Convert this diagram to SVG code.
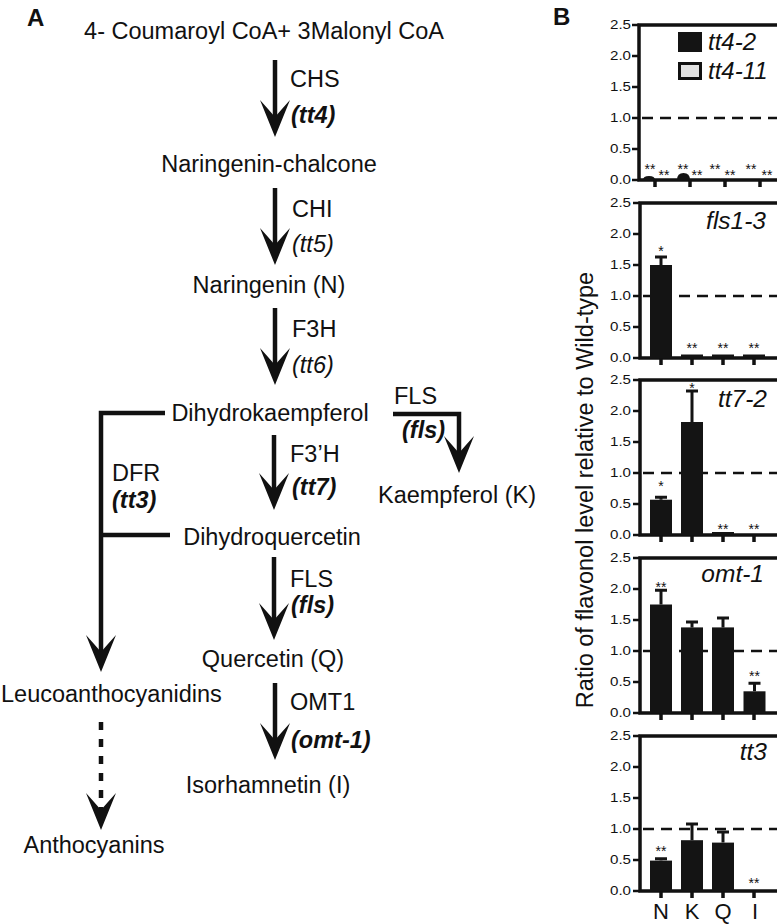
<svg xmlns="http://www.w3.org/2000/svg" width="777" height="924" viewBox="0 0 777 924">
<style>
text{font-family:"Liberation Sans",Arial,Helvetica,sans-serif;fill:#111}
.t{font-size:23.5px}
.c{text-anchor:middle}
.bi{font-weight:bold;font-style:italic}
.it{font-style:italic}
.lab{font-size:24px;font-weight:bold}
.tk{font-size:12px;text-anchor:end}
.st{font-size:14px;text-anchor:middle}
.pl{font-size:24.5px;font-style:italic;text-anchor:end}
.xl{font-size:22px;text-anchor:middle}
.shaft{fill:none;stroke:#111;stroke-width:4.5;stroke-linejoin:miter;marker-end:url(#ah)}
.br{fill:none;stroke:#111;stroke-width:4.5}
.frame{fill:none;stroke:#111;stroke-width:3.5;stroke-linejoin:miter}
.ytk{stroke:#111;stroke-width:2.5}
.xtk{stroke:#111;stroke-width:3.5}
.dash{stroke:#111;stroke-width:2.5;stroke-dasharray:11 7}
.bar{fill:#141414}
.err{stroke:#141414;stroke-width:3;fill:none}
</style>
<defs>
<marker id="ah" markerUnits="userSpaceOnUse" viewBox="0 0 37 30" markerWidth="37" markerHeight="30" refX="24" refY="15" orient="auto">
<path d="M37,15 L0,0 Q10,9 17,15 Q10,21 0,30 Z" fill="#111"/>
</marker>
</defs>
<rect width="777" height="924" fill="#fff"/>

<text class="lab" x="27" y="26">A</text>
<text class="lab" x="553" y="25">B</text>

<g id="connectors">
<path class="shaft" d="M275,60 V124"/>
<path class="shaft" d="M275,188 V252"/>
<path class="shaft" d="M275,308 V372"/>
<path class="shaft" d="M274,435 V497"/>
<path class="shaft" d="M274,557 V627"/>
<path class="shaft" d="M275,683 V747"/>
<path class="shaft" d="M393,414 H459 V460"/>
<path class="shaft" d="M165,413 H101 V659"/>
<path class="br" d="M101,535 H170"/>
<path class="shaft" d="M101,722 V817" stroke-dasharray="8 9"/>
</g>

<g id="node-coumaroyl"><text class="t c" x="264" y="39">4- Coumaroyl CoA+ 3Malonyl CoA</text></g>
<g id="node-chalcone"><text class="t c" x="269" y="172">Naringenin-chalcone</text></g>
<g id="node-naringenin"><text class="t c" x="269" y="293">Naringenin (N)</text></g>
<g id="node-dihydrokaempferol"><text class="t c" x="270" y="421">Dihydrokaempferol</text></g>
<g id="node-kaempferol"><text class="t c" x="457" y="503">Kaempferol (K)</text></g>
<g id="node-dihydroquercetin"><text class="t c" x="272" y="545">Dihydroquercetin</text></g>
<g id="node-quercetin"><text class="t c" x="273" y="667">Quercetin (Q)</text></g>
<g id="node-isorhamnetin"><text class="t c" x="268" y="793">Isorhamnetin (I)</text></g>
<g id="node-leuco"><text class="t" x="1" y="702">Leucoanthocyanidins</text></g>
<g id="node-antho"><text class="t c" x="94" y="853">Anthocyanins</text></g>

<g id="label-chs"><text class="t" x="290" y="87">CHS</text><text class="t bi" x="291" y="123">(tt4)</text></g>
<g id="label-chi"><text class="t" x="292" y="217">CHI</text><text class="t it" x="292" y="252">(tt5)</text></g>
<g id="label-f3h"><text class="t" x="292" y="337">F3H</text><text class="t it" x="292" y="373">(tt6)</text></g>
<g id="label-f3ph"><text class="t" x="290" y="462">F3’H</text><text class="t bi" x="292" y="495">(tt7)</text></g>
<g id="label-fls"><text class="t" x="290" y="587">FLS</text><text class="t bi" x="291" y="613">(fls)</text></g>
<g id="label-omt"><text class="t" x="290" y="710">OMT1</text><text class="t bi" x="291" y="748">(omt-1)</text></g>
<g id="label-fls-branch"><text class="t" x="394" y="404">FLS</text><text class="t bi" x="402" y="438">(fls)</text></g>
<g id="label-dfr"><text class="t" x="112" y="481">DFR</text><text class="t bi" x="112" y="508">(tt3)</text></g>

<g id="ylabel"><text class="t c" transform="translate(593,490) rotate(-90)">Ratio of flavonol level relative to Wild-type</text></g>

<g id="chart-tt4">
<path class="frame" d="M777,25 H639 V180 H777"/>
<path class="ytk" d="M632,180H639M632,149H639M632,118H639M632,87H639M632,56H639M632,25H639"/>
<path class="xtk" d="M655,180V187M690,180V187M725,180V187M760,180V187"/>
<line class="dash" x1="642" y1="118" x2="777" y2="118"/>
<text class="tk" x="631" y="184.3" textLength="21" lengthAdjust="spacingAndGlyphs">0.0</text>
<text class="tk" x="631" y="153.3" textLength="21" lengthAdjust="spacingAndGlyphs">0.5</text>
<text class="tk" x="631" y="122.3" textLength="21" lengthAdjust="spacingAndGlyphs">1.0</text>
<text class="tk" x="631" y="91.3" textLength="21" lengthAdjust="spacingAndGlyphs">1.5</text>
<text class="tk" x="631" y="60.3" textLength="21" lengthAdjust="spacingAndGlyphs">2.0</text>
<text class="tk" x="631" y="29.3" textLength="21" lengthAdjust="spacingAndGlyphs">2.5</text>
<path class="bar" d="M643,180 Q643,176 649,176 Q655,176 655,180 Z"/>
<path class="bar" d="M677,180 Q677,173 683.5,173 Q690,173 690,180 Z"/>
<text class="st" x="650" y="174">**</text><text class="st" x="664" y="180">**</text>
<text class="st" x="683" y="174">**</text><text class="st" x="697" y="180">**</text>
<text class="st" x="715" y="174">**</text><text class="st" x="730" y="180">**</text>
<text class="st" x="751" y="174">**</text><text class="st" x="767" y="180">**</text>
<rect x="678" y="32" width="24" height="20" fill="#141414"/>
<rect x="679.5" y="63.5" width="21" height="15" fill="#e2e2e2" stroke="#111" stroke-width="3"/>
<text class="it" x="708" y="50" font-size="24">tt4-2</text>
<text class="it" x="708" y="79" font-size="24">tt4-11</text>
</g>

<g id="chart-fls1-3">
<path class="frame" d="M777,203 H640 V358 H777"/>
<path class="ytk" d="M633,358H640M633,327H640M633,296H640M633,265H640M633,234H640M633,203H640"/>
<path class="xtk" d="M661,358V365M692,358V365M723,358V365M754,358V365"/>
<line class="dash" x1="643" y1="296" x2="777" y2="296"/>
<text class="tk" x="631" y="362.3" textLength="21" lengthAdjust="spacingAndGlyphs">0.0</text>
<text class="tk" x="631" y="331.3" textLength="21" lengthAdjust="spacingAndGlyphs">0.5</text>
<text class="tk" x="631" y="300.3" textLength="21" lengthAdjust="spacingAndGlyphs">1.0</text>
<text class="tk" x="631" y="269.3" textLength="21" lengthAdjust="spacingAndGlyphs">1.5</text>
<text class="tk" x="631" y="238.3" textLength="21" lengthAdjust="spacingAndGlyphs">2.0</text>
<text class="tk" x="631" y="207.3" textLength="21" lengthAdjust="spacingAndGlyphs">2.5</text>
<rect class="bar" x="650" y="265" width="22" height="93"/>
<path class="err" d="M661,265V257M655,257H667"/>
<rect class="bar" x="681" y="354.5" width="22" height="3"/>
<rect class="bar" x="712" y="354.5" width="22" height="3"/>
<rect class="bar" x="743" y="354.5" width="22" height="3"/>
<text class="st" x="661" y="256">*</text>
<text class="st" x="692" y="353">**</text><text class="st" x="723" y="353">**</text><text class="st" x="754" y="353">**</text>
<text class="pl" x="766" y="229">fls1-3</text>
</g>

<g id="chart-tt7-2">
<path class="frame" d="M777,380 H640 V535 H777"/>
<path class="ytk" d="M633,535H640M633,504H640M633,473H640M633,442H640M633,411H640M633,380H640"/>
<path class="xtk" d="M661,535V542M692,535V542M723,535V542M754,535V542"/>
<line class="dash" x1="643" y1="473" x2="777" y2="473"/>
<text class="tk" x="631" y="539.3" textLength="21" lengthAdjust="spacingAndGlyphs">0.0</text>
<text class="tk" x="631" y="508.3" textLength="21" lengthAdjust="spacingAndGlyphs">0.5</text>
<text class="tk" x="631" y="477.3" textLength="21" lengthAdjust="spacingAndGlyphs">1.0</text>
<text class="tk" x="631" y="446.3" textLength="21" lengthAdjust="spacingAndGlyphs">1.5</text>
<text class="tk" x="631" y="415.3" textLength="21" lengthAdjust="spacingAndGlyphs">2.0</text>
<text class="tk" x="631" y="384.3" textLength="21" lengthAdjust="spacingAndGlyphs">2.5</text>
<rect class="bar" x="650" y="499.7" width="22" height="35.3"/>
<path class="err" d="M661,499.7V497.2M655,497.2H667"/>
<rect class="bar" x="681" y="422" width="22" height="113"/>
<path class="err" d="M692,422V391M686,391H698"/>
<rect class="bar" x="712" y="532" width="22" height="2.5"/>
<text class="st" x="661" y="491">*</text>
<text class="st" x="692" y="393">*</text>
<text class="st" x="723" y="533.5">**</text><text class="st" x="754" y="533.5">**</text>
<text class="pl" x="767" y="407">tt7-2</text>
</g>

<g id="chart-omt-1">
<path class="frame" d="M777,558 H640 V713 H777"/>
<path class="ytk" d="M633,713H640M633,682H640M633,651H640M633,620H640M633,589H640M633,558H640"/>
<path class="xtk" d="M661,713V720M692,713V720M723,713V720M754,713V720"/>
<line class="dash" x1="643" y1="651" x2="777" y2="651"/>
<text class="tk" x="631" y="717.3" textLength="21" lengthAdjust="spacingAndGlyphs">0.0</text>
<text class="tk" x="631" y="686.3" textLength="21" lengthAdjust="spacingAndGlyphs">0.5</text>
<text class="tk" x="631" y="655.3" textLength="21" lengthAdjust="spacingAndGlyphs">1.0</text>
<text class="tk" x="631" y="624.3" textLength="21" lengthAdjust="spacingAndGlyphs">1.5</text>
<text class="tk" x="631" y="593.3" textLength="21" lengthAdjust="spacingAndGlyphs">2.0</text>
<text class="tk" x="631" y="562.3" textLength="21" lengthAdjust="spacingAndGlyphs">2.5</text>
<rect class="bar" x="650" y="604.5" width="22" height="108.5"/>
<path class="err" d="M661,604.5V590.2M655,590.2H667"/>
<rect class="bar" x="681" y="627.4" width="22" height="85.6"/>
<path class="err" d="M692,627.4V621.9M686,621.9H698"/>
<rect class="bar" x="712" y="627.4" width="22" height="85.6"/>
<path class="err" d="M723,627.4V618M717,618H729"/>
<rect class="bar" x="743.5" y="691.3" width="22" height="21.7"/>
<path class="err" d="M754.5,691.3V683.2M748.5,683.2H760.5"/>
<text class="st" x="661" y="591.5">**</text>
<text class="st" x="754.5" y="681">**</text>
<text class="pl" x="764" y="582">omt-1</text>
</g>

<g id="chart-tt3">
<path class="frame" d="M777,736 H640 V891 H777"/>
<path class="ytk" d="M633,891H640M633,860H640M633,829H640M633,798H640M633,767H640M633,736H640"/>
<path class="xtk" d="M661,891V898M692,891V898M723,891V898M754,891V898"/>
<line class="dash" x1="643" y1="829" x2="777" y2="829"/>
<text class="tk" x="631" y="895.3" textLength="21" lengthAdjust="spacingAndGlyphs">0.0</text>
<text class="tk" x="631" y="864.3" textLength="21" lengthAdjust="spacingAndGlyphs">0.5</text>
<text class="tk" x="631" y="833.3" textLength="21" lengthAdjust="spacingAndGlyphs">1.0</text>
<text class="tk" x="631" y="802.3" textLength="21" lengthAdjust="spacingAndGlyphs">1.5</text>
<text class="tk" x="631" y="771.3" textLength="21" lengthAdjust="spacingAndGlyphs">2.0</text>
<text class="tk" x="631" y="740.3" textLength="21" lengthAdjust="spacingAndGlyphs">2.5</text>
<rect class="bar" x="650" y="860.6" width="22" height="30.4"/>
<path class="err" d="M661,860.6V858.8M655,858.8H667"/>
<rect class="bar" x="681" y="840.2" width="22" height="50.8"/>
<path class="err" d="M692,840.2V824M686,824H698"/>
<rect class="bar" x="712" y="842.6" width="22" height="48.4"/>
<path class="err" d="M723,842.6V832.1M717,832.1H729"/>
<text class="st" x="661" y="856">**</text>
<text class="st" x="754" y="888">**</text>
<text class="pl" x="767" y="760">tt3</text>
<text class="xl" x="661" y="919">N</text>
<text class="xl" x="692" y="919">K</text>
<text class="xl" x="723" y="919">Q</text>
<text class="xl" x="755" y="919">I</text>
</g>
</svg>
